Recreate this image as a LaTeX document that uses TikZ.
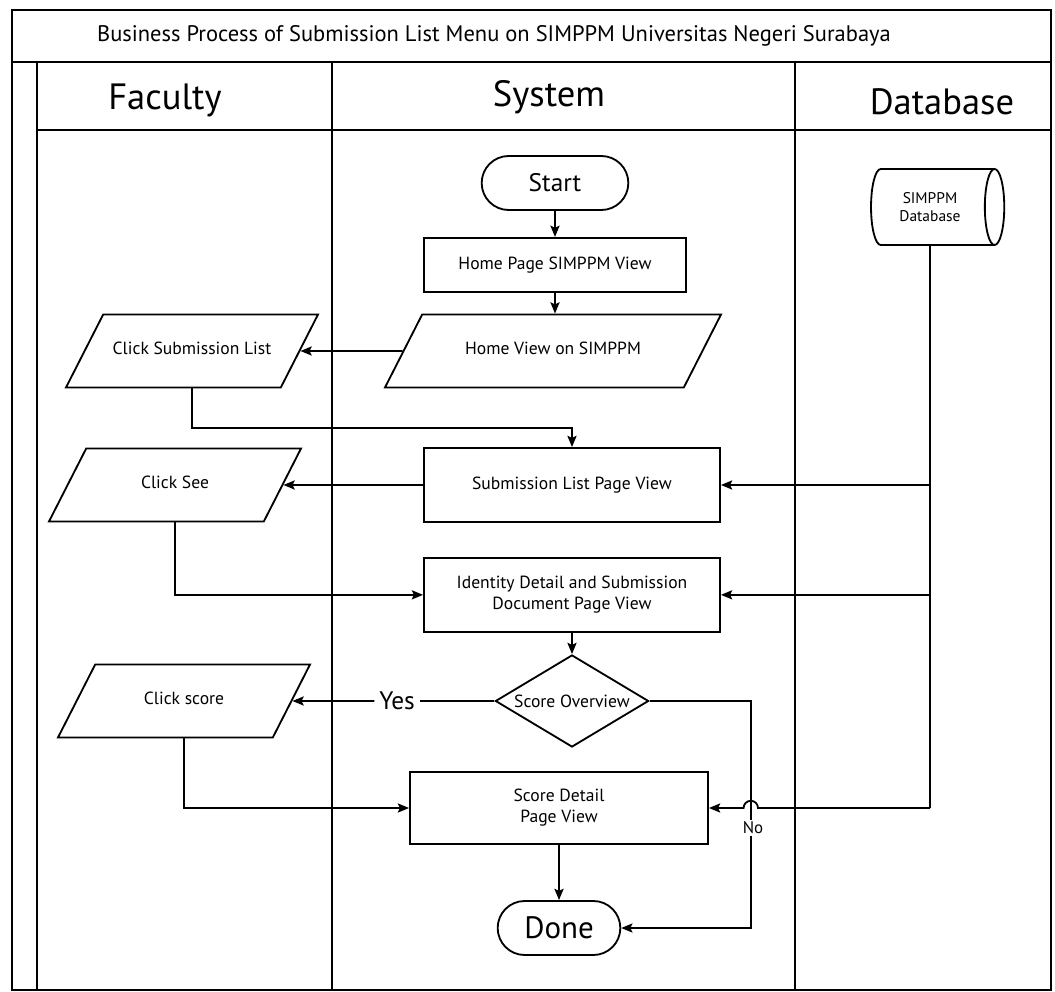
\documentclass[tikz,border=0pt]{standalone}
\usepackage{fontspec}
\setmainfont{PT Sans}
\usetikzlibrary{positioning,shapes.geometric,shapes.misc,arrows.meta}

\begin{document}
\begin{tikzpicture}[
        x=0.025cm, y=-0.025cm,
        lane/.style={
            line width=1.3pt
        },
        process/.style={
            draw,
            line width=1.3pt,
            minimum width=7.4cm,
            minimum height=1.85cm,
            align=center,
            font=\fontsize{12.5}{15}\selectfont
        },
        io/.style={
            draw,
            line width=1.3pt,
            trapezium,
            trapezium left angle=63,
            trapezium right angle=117,
            trapezium stretches body=true,
            text height=8pt,
            text depth=3pt,
            inner ysep=0.72cm,
            minimum width=6.3cm,
            font=\fontsize{12.5}{15}\selectfont
        },
        terminal/.style={
            draw,
            line width=1.3pt,
            rounded rectangle,
            minimum height=1.35cm
        },
        flow/.style={
            ->,
            >={Stealth[length=8pt, width=6.5pt, inset=1.5pt]},
            line width=1.3pt
        },
        node distance=0.6cm
    ]
    \useasboundingbox (0,0) rectangle (1055,992);

    % swimlane frame
    \draw[lane] (12,10) rectangle (1051,990);
    \draw[lane] (12,62) -- (1051,62);
    \draw[lane] (37,62) -- (37,990);
    \draw[lane] (37,130) -- (1051,130);
    \draw[lane] (332,62) -- (332,990);
    \draw[lane] (795,62) -- (795,990);

    \node[font=\fontsize{16}{19}\selectfont] (title) at (494,36)
        {Business Process of Submission List Menu on SIMPPM Universitas Negeri Surabaya};
    \node[font=\fontsize{26}{30}\selectfont] (faculty) at (165,100) {Faculty};
    \node[font=\fontsize{26}{30}\selectfont] (system) at (549,97) {System};
    \node[font=\fontsize{26}{30}\selectfont] (database) at (942,102) {Database};

    % system lane
    \node[terminal, minimum width=3.9cm, font=\fontsize{18}{22}\selectfont] (start) at (555,183) {Start};
    \node[process, minimum width=6.55cm, minimum height=1.35cm, below=0.65cm of start] (hp) {Home Page SIMPPM View};
    \node[io, minimum width=8.4cm] (hv) at (553,351) {Home View on SIMPPM};
    \node[process] (sl) at (572,485) {Submission List Page View};
    \node[process, below=0.85cm of sl] (id) {Identity Detail and Submission\\Document Page View};
    \node[draw, line width=1.3pt, diamond, aspect=1.66, inner sep=1pt,
          minimum width=3.83cm, minimum height=2.3cm,
          font=\fontsize{12.5}{15}\selectfont] (dia) at (572,701) {Score Overview};
    \node[process, minimum width=7.45cm, minimum height=1.8cm] (sd) at (559,808) {Score Detail\\Page View};
    \node[terminal, minimum width=3.3cm, font=\fontsize{22}{26}\selectfont] (done) at (559,928) {Done};

    % faculty lane
    \node[io] (csl) at (192,351) {Click Submission List};
    \node[io] (cs) at (175,485) {Click See};
    \node[io] (csc) at (184,701) {Click score};

    % database lane
    \node[draw, line width=1.3pt, cylinder, aspect=0.5, minimum width=1.9cm, minimum height=3.33cm,
          align=center, font=\fontsize{11}{13}\selectfont] (db) at (930,207) {SIMPPM\\Database};

    \node[font=\fontsize{18}{22}\selectfont] (yes) at (397,701) {Yes};
    \coordinate (j1) at (572,428);
    \coordinate (nx) at (751,701);
    \coordinate (hop) at (758,808);

    \draw[flow] (start) -- (hp);
    \draw[flow] (hp) -- (hv.north -| hp.south);
    \draw[flow] (hv.west) -- (csl.east);
    \draw[flow] (csl.south -| csl.center) |- (j1) -- (sl.north);
    \draw[flow] (sl.west) -- (cs.east);
    \draw[flow] (cs.south -| cs.center) |- (id.west);
    \draw[flow] (id) -- (dia);
    \draw[lane] (dia.west) -- (yes.east);
    \draw[flow] (yes.west) -- (csc.east);
    \draw[flow] (csc.south -| csc.center) |- (sd.west);
    \draw[flow] (sd) -- (done);

    % No branch
    \draw[flow] (dia.east) -- (nx) |- (done.east);
    \node[fill=white, inner sep=1pt, font=\fontsize{12}{14}\selectfont] (no) at (753,828) {No};

    % database feeds
    \draw[lane] (db.south) -- (db.south |- sd.east);
    \draw[flow] (db.south |- sl.east) -- (sl.east);
    \draw[flow] (db.south |- id.east) -- (id.east);
    \draw[flow] (db.south |- sd.east) -- (hop) arc[start angle=0, end angle=180, radius=0.18cm] -- (sd.east);

\end{tikzpicture}
\end{document}
